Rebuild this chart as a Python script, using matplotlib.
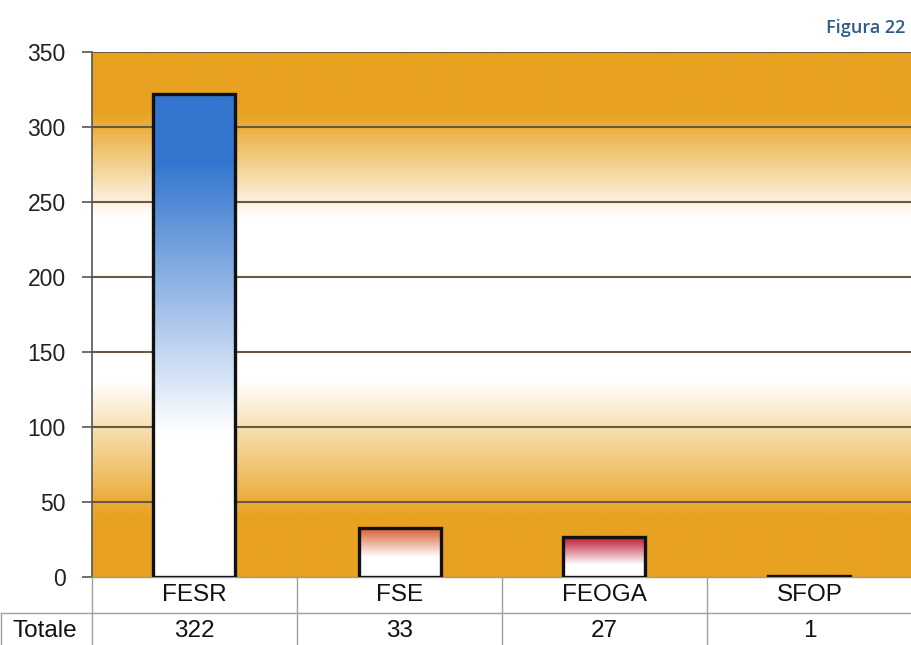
import numpy as np
import matplotlib
matplotlib.use("Agg")
import matplotlib.pyplot as plt
from matplotlib.colors import LinearSegmentedColormap
from matplotlib.transforms import blended_transform_factory
from matplotlib.lines import Line2D

categories = ["FESR", "FSE", "FEOGA", "SFOP"]
totals = [322, 33, 27, 1]
row_label = "Totale"
y_ticks = [0, 50, 100, 150, 200, 250, 300, 350]
title = "Figura 22"

bar_tops = ["#3476cf", "#d8683c", "#c3283f", "#3a3a3a"]
white_frac = [0.30, 0.40, 0.30, 0.0]   # share of each bar (from the base) that stays white
solid_frac = [0.86, 0.95, 0.92, 0.0]   # above this share the bar is the full colour

plt.rcParams["font.family"] = ["Liberation Sans", "DejaVu Sans"]

W, H = 912, 645
fig = plt.figure(figsize=(W / 100, H / 100), dpi=100)
fig.patch.set_facecolor("white")

left, right, top, bottom = 92, 912, 52, 577
ax = fig.add_axes([left / W, 1 - bottom / H, (right - left) / W, (bottom - top) / H])

n = len(categories)
x = np.arange(n)
ax.set_xlim(-0.5, n - 0.5)
ax.set_ylim(0, 350)

# orange - white - orange background band
orange = np.array([232, 162, 32]) / 255
white = np.array([1.0, 1.0, 1.0])
stops = [(0, orange), (40, orange), (130, white), (240, white), (310, orange), (350, orange)]
yy = np.linspace(0, 350, 700)
sv = np.array([s[0] for s in stops])
cols = np.stack([np.interp(yy, sv, [s[1][k] for s in stops]) for k in range(3)], axis=1)
bg = cols[:, None, :]
ax.imshow(bg, extent=[-0.5, n - 0.5, 0, 350], origin="lower", aspect="auto",
          zorder=0, interpolation="bilinear")

for yv in y_ticks[1:]:
    ax.axhline(yv, color="#6a5840", lw=1.5, zorder=1)

bw = 0.4
for i, v in enumerate(totals):
    if v >= 5:
        c = matplotlib.colors.to_rgb(bar_tops[i])
        cmap = LinearSegmentedColormap.from_list(
            "g%d" % i, [(0, "white"), (white_frac[i], "white"), (solid_frac[i], c), (1, c)])
        grad = np.linspace(0, 1, 256)[:, None]
        ax.imshow(grad, extent=[x[i] - bw / 2, x[i] + bw / 2, 0, v], origin="lower",
                  aspect="auto", cmap=cmap, zorder=2, interpolation="bilinear")
    ax.bar(x[i], v, width=bw, facecolor="none", edgecolor="#111111", lw=2.4, zorder=3)
ax.set_xlim(-0.5, n - 0.5)
ax.set_ylim(0, 350)

for s in ["top", "right"]:
    ax.spines[s].set_visible(False)
ax.spines["left"].set_color("#555555")
ax.spines["left"].set_linewidth(1.2)
ax.spines["bottom"].set_color("#999999")
ax.spines["bottom"].set_linewidth(1.0)
ax.set_yticks(y_ticks)
ax.set_yticklabels([str(t) for t in y_ticks], fontsize=16.5, color="#222222")
ax.tick_params(axis="y", length=7, width=1.2, color="#555555", pad=12)
ax.set_xticks([])

# data table under the axis
tr = blended_transform_factory(ax.transData, fig.transFigure)
row1_mid = 1 - 595 / H
row2_mid = 1 - 631 / H
sep = 1 - 613 / H
for i, (cat, v) in enumerate(zip(categories, totals)):
    fig.text(x[i], row1_mid, cat, transform=tr, ha="center", va="center",
             fontsize=17.5, color="#111111")
    fig.text(x[i], row2_mid, str(v), transform=tr, ha="center", va="center",
             fontsize=17.5, color="#111111")
fig.text(45 / W, row2_mid, row_label, ha="center", va="center", fontsize=17.5, color="#111111")

line_kw = dict(color="#a0a0a0", lw=1.0)
for b in np.arange(-0.5, n - 0.5, 1.0):
    fig.add_artist(Line2D([b, b], [1 - bottom / H, 0], transform=tr, **line_kw))
fig.add_artist(Line2D([0.001, 1], [sep, sep], transform=fig.transFigure, **line_kw))
fig.add_artist(Line2D([0.001, 0.001], [sep, 0], transform=fig.transFigure, **line_kw))

fig.text(905 / W, 1 - 28 / H, title, ha="right", va="center", fontsize=13,
         color="#2d5b8c", family=["Open Sans", "DejaVu Sans"], weight="semibold")

fig.savefig("out.png", dpi=100)
